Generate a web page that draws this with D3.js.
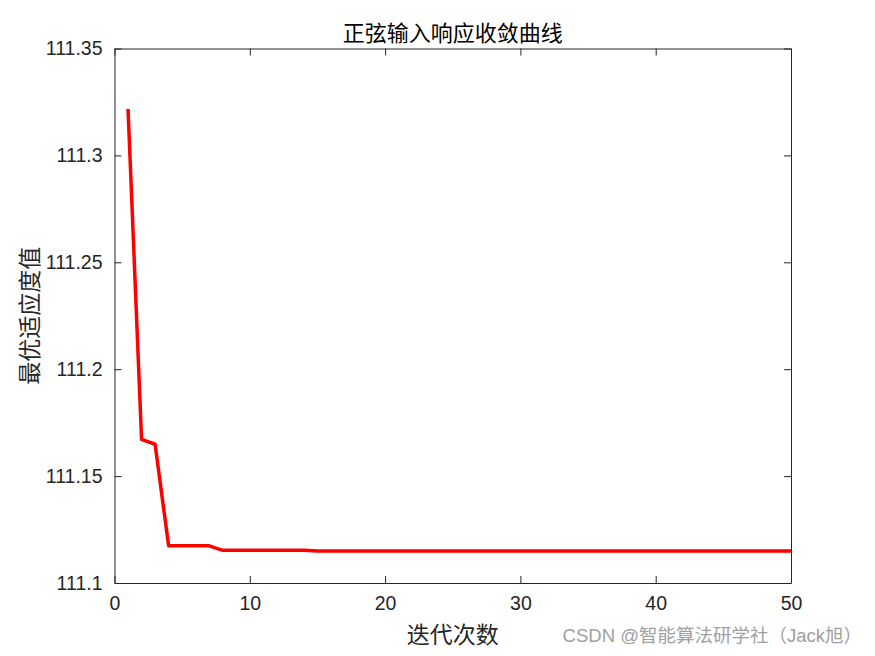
<!DOCTYPE html>
<html>
<head>
<meta charset="utf-8">
<script src="https://cdn.jsdelivr.net/npm/d3@7"></script>
<style>
  body { margin: 0; background: #fff; }
  svg { display: block; }
</style>
</head>
<body>
<svg id="chart"></svg>
<script>
let width = 875
let height = 656

// iteration data
let iterations = d3.range(1, 51)
let fitness = [
  111.3217, 111.1672, 111.1649, 111.1174, 111.1174, 111.1174, 111.1174, 111.1153,
  111.1153, 111.1153, 111.1153, 111.1153, 111.1153, 111.1153,
  111.1150, 111.1150, 111.1150, 111.1150, 111.1150, 111.1150, 111.1150, 111.1150,
  111.1150, 111.1150, 111.1150, 111.1150, 111.1150, 111.1150, 111.1150, 111.1150,
  111.1150, 111.1150, 111.1150, 111.1150, 111.1150, 111.1150, 111.1150, 111.1150,
  111.1150, 111.1150, 111.1150, 111.1150, 111.1150, 111.1150, 111.1150, 111.1150,
  111.1150, 111.1150, 111.1150, 111.1150
]
let xTicks = [0, 10, 20, 30, 40, 50]
let yTicks = [111.1, 111.15, 111.2, 111.25, 111.3, 111.35]
let yTickLabels = ['111.1', '111.15', '111.2', '111.25', '111.3', '111.35']

let margin = { left: 114.5, right: 84, top: 48.5, bottom: 73 }

let svg = d3.select('#chart')
  .attr('width', width)
  .attr('height', height)

let x = d3.scaleLinear()
  .domain([0, 50])
  .range([margin.left, width - margin.right])

let y = d3.scaleLinear()
  .domain([111.1, 111.35])
  .range([height - margin.bottom, margin.top])

let tickFont = '"Liberation Sans", Arial, sans-serif'
let cjkFont = '"Noto Sans CJK SC", sans-serif'

// axes, MATLAB style ticks pointing inward
let bottomAxis = d3.axisBottom(x).tickValues(xTicks).tickSizeInner(-7).tickSizeOuter(0).tickPadding(13)
let topAxis = d3.axisTop(x).tickValues(xTicks).tickSizeInner(-7).tickSizeOuter(0).tickFormat('')
let leftAxis = d3.axisLeft(y).tickValues(yTicks).tickSizeInner(-7).tickSizeOuter(0).tickPadding(12)
  .tickFormat((d, i) => yTickLabels[i])
let rightAxis = d3.axisRight(y).tickValues(yTicks).tickSizeInner(-7).tickSizeOuter(0).tickFormat('')

let axes = [
  [bottomAxis, `translate(0, ${height - margin.bottom})`],
  [topAxis, `translate(0, ${margin.top})`],
  [leftAxis, `translate(${margin.left}, 0)`],
  [rightAxis, `translate(${width - margin.right}, 0)`]
]

axes.forEach(([ax, t]) => {
  let g = svg.append('g').attr('transform', t).call(ax)
  g.selectAll('path').attr('stroke', '#262626').attr('stroke-width', 1)
  g.selectAll('line').attr('stroke', '#262626').attr('stroke-width', 1)
  g.selectAll('text')
    .attr('fill', '#262626')
    .style('font-family', tickFont)
    .style('font-size', '19.5px')
})

// the curve
let line = d3.line()
  .x((d, i) => x(iterations[i]))
  .y((d) => y(d))

svg.append('path')
  .datum(fitness)
  .attr('d', line)
  .attr('fill', 'none')
  .attr('stroke', '#ff0000')
  .attr('stroke-width', 3.5)
  .attr('stroke-linejoin', 'round')

// title and labels
svg.append('text')
  .attr('x', (x(0) + x(50)) / 2)
  .attr('y', 41)
  .attr('text-anchor', 'middle')
  .style('font-family', cjkFont)
  .style('font-size', '22px')
  .attr('fill', '#000')
  .text('正弦输入响应收敛曲线')

svg.append('text')
  .attr('x', (x(0) + x(50)) / 2)
  .attr('y', 643)
  .attr('text-anchor', 'middle')
  .style('font-family', cjkFont)
  .style('font-size', '23px')
  .attr('fill', '#262626')
  .text('迭代次数')

svg.append('text')
  .attr('transform', `translate(38, ${(y(111.1) + y(111.35)) / 2}) rotate(-90)`)
  .attr('text-anchor', 'middle')
  .style('font-family', cjkFont)
  .style('font-size', '23px')
  .attr('fill', '#262626')
  .text('最优适应度值')

// watermark
svg.append('text')
  .attr('x', 862)
  .attr('y', 642)
  .attr('text-anchor', 'end')
  .style('font-family', `"Liberation Sans", ${cjkFont}`)
  .style('font-size', '18.5px')
  .attr('fill', '#a0a0a0')
  .text('CSDN @智能算法研学社（Jack旭）')
</script>
</body>
</html>
